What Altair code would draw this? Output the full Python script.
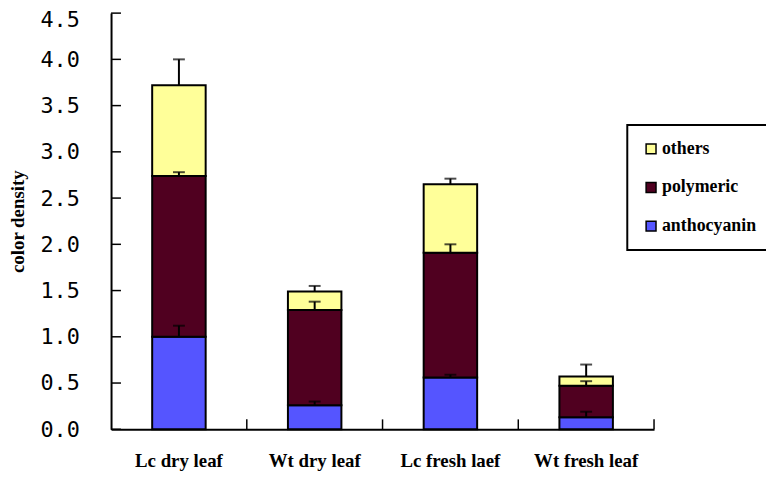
import altair as alt
import pandas as pd

categories = ["Lc dry leaf", "Wt dry leaf", "Lc fresh laef", "Wt fresh leaf"]
components = ["anthocyanin", "polymeric", "others"]
anthocyanin = [1.00, 0.26, 0.56, 0.13]
polymeric = [1.74, 1.03, 1.35, 0.34]
others = [0.98, 0.20, 0.74, 0.10]
err_anthocyanin = [0.12, 0.04, 0.03, 0.06]
err_polymeric = [0.04, 0.09, 0.09, 0.05]
err_others = [0.28, 0.06, 0.06, 0.13]
legend_order = ["others", "polymeric", "anthocyanin"]
legend_colors = ["#FFFF99", "#500020", "#5555FF"]
y_ticks = [0.0, 0.5, 1.0, 1.5, 2.0, 2.5, 3.0, 3.5, 4.0, 4.5]

rows = []
for i, c in enumerate(categories):
    base = 0.0
    for comp, vals, errs in zip(components,
                                [anthocyanin, polymeric, others],
                                [err_anthocyanin, err_polymeric, err_others]):
        top = base + vals[i]
        rows.append(dict(cat=c, comp=comp, y0=base, y1=top, e=top + errs[i]))
        base = top
df = pd.DataFrame(rows)
ticks_df = pd.DataFrame({"v": y_ticks})
cats_df = pd.DataFrame({"cat": categories})

xscale = alt.Scale(domain=categories, paddingInner=0.606, paddingOuter=0.303)
yscale = alt.Scale(domain=[0, 4.5], nice=False)
TITLE = "color density"

x_enc = alt.X("cat:N", sort=categories, scale=xscale, title=None,
              axis=alt.Axis(labelAngle=0, ticks=False, domainColor="black",
                            domainWidth=2, labelFont="Liberation Serif",
                            labelFontWeight="bold", labelFontSize=19,
                            labelColor="black", labelPadding=23))

bars = alt.Chart(df).mark_bar(stroke="black", strokeWidth=2).encode(
    x=x_enc,
    y=alt.Y("y1:Q", scale=yscale, title=TITLE,
            axis=alt.Axis(values=y_ticks, format=".1f", ticks=False, grid=False,
                          labelFont="DejaVu Sans Mono", labelFontSize=22,
                          labelColor="black", labelPadding=32,
                          labelOffset={"condition": {"test": "datum.value >= 4.5",
                                                     "value": 7},
                                       "value": 0},
                          titleFont="Liberation Serif", titleFontWeight="bold",
                          titleFontSize=19, titleColor="black", titlePadding=13,
                          domainWidth=2, domainColor="black")),
    y2="y0:Q",
    color=alt.Color("comp:N",
                    scale=alt.Scale(domain=legend_order, range=legend_colors),
                    legend=alt.Legend(title=None, orient="none", legendX=521,
                                      legendY=113, symbolType="square",
                                      symbolSize=100, symbolStrokeColor="black",
                                      symbolStrokeWidth=1.5,
                                      labelFont="Liberation Serif",
                                      labelFontWeight="bold", labelFontSize=18,
                                      labelColor="black", labelOffset=2,
                                      labelLimit=300,
                                      padding=15, rowPadding=21,
                                      strokeColor="black", fillColor="white")),
)

err_rule = alt.Chart(df).mark_rule(color="black", strokeWidth=2).encode(
    x=alt.X("cat:N", sort=categories, scale=xscale),
    y=alt.Y("y1:Q", scale=yscale, title=TITLE),
    y2="e:Q",
)

err_cap = alt.Chart(df).mark_tick(color="black", orient="horizontal", size=12,
                                  thickness=2).encode(
    x=alt.X("cat:N", sort=categories, scale=xscale),
    y=alt.Y("e:Q", scale=yscale, title=TITLE),
)

y_tick_marks = alt.Chart(ticks_df).mark_rule(color="black", strokeWidth=1.5).encode(
    y=alt.Y("v:Q", scale=yscale, title=TITLE),
    x=alt.value(0),
    x2=alt.value(10),
)

x_tick_marks = alt.Chart(cats_df).mark_rule(color="black", strokeWidth=1.5,
                                            xOffset=68.5).encode(
    x=alt.X("cat:N", sort=categories, scale=xscale),
    y=alt.value(420),
    y2=alt.value(410),
)

chart = alt.layer(bars, err_rule, err_cap, y_tick_marks, x_tick_marks).properties(
    width=548, height=420,
    autosize=alt.AutoSizeParams(type="none"),
    padding={"left": 104, "top": 3, "right": 113, "bottom": 47},
).configure_view(stroke=None).configure_legend(strokeWidth=2)

chart.save("out.html", embed_options={"renderer": "svg", "actions": False})
